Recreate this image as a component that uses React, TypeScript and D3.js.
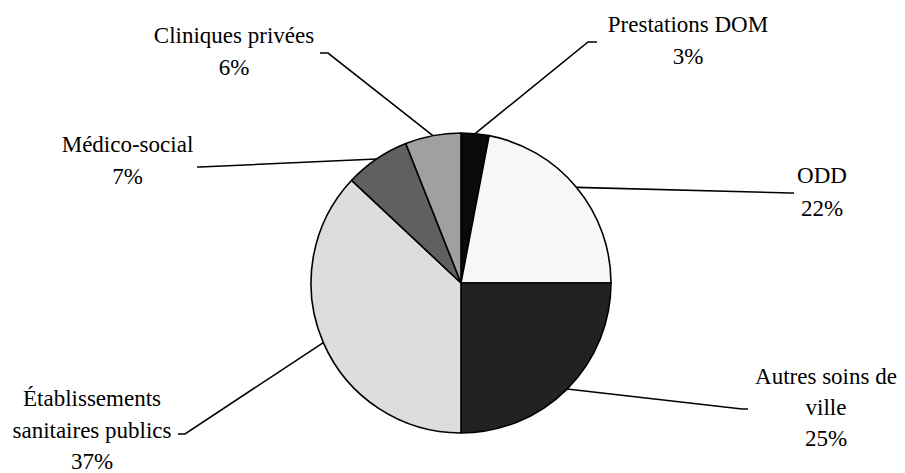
import React from 'react';
import * as d3 from 'd3';

const categories = [
  'Prestations DOM',
  'ODD',
  'Autres soins de ville',
  'Établissements sanitaires publics',
  'Médico-social',
  'Cliniques privées',
];
const shares = [3, 22, 25, 37, 7, 6];
const labelLines = [
  ['Prestations DOM', '3%'],
  ['ODD', '22%'],
  ['Autres soins de', 'ville', '25%'],
  ['Établissements', 'sanitaires publics', '37%'],
  ['Médico-social', '7%'],
  ['Cliniques privées', '6%'],
];
const fills = ['#0a0a0a', '#f7f7f7', '#222222', '#dddddd', '#606060', '#a0a0a0'];

// label placement (layout only)
const labelPos = [
  { x: 688, y: 31.5, gap: 32, bend: [588, 42], end: [597, 42] },
  { x: 822, y: 183, gap: 33, bend: [790, 193], end: [794, 193] },
  { x: 826, y: 384, gap: 31, bend: [742, 409], end: [748, 409] },
  { x: 92, y: 406, gap: 31.5, bend: [185, 434], end: [178, 434] },
  { x: 127.5, y: 151.5, gap: 32.5, bend: [200, 167], end: [197, 167] },
  { x: 234, y: 43, gap: 32, bend: [328, 53], end: [320, 53] },
];

type Datum = { name: string; value: number; i: number };

const width = 905;
const height = 473;
const cx = 461;
const cy = 283;
const r = 150;
const labelFont = '"Times New Roman", "Liberation Serif", Tinos, serif';

const App: React.FC = () => {
  const data: Datum[] = categories.map((c, i) => ({ name: c, value: shares[i], i }));
  const arcs = d3
    .pie<Datum>()
    .sort(null)
    .value((d) => d.value)(data);
  const arc = d3.arc<d3.PieArcDatum<Datum>>().innerRadius(0).outerRadius(r);

  return (
    <svg
      width={width}
      height={height}
      style={{ position: 'absolute', left: 0, top: 0, background: '#fff' }}
    >
      <g transform={`translate(${cx},${cy})`}>
        {arcs.map((a) => (
          <path
            key={a.data.name}
            d={arc(a) || ''}
            fill={fills[a.data.i]}
            stroke="#000"
            strokeWidth={1.6}
            strokeLinejoin="round"
          />
        ))}
      </g>
      {arcs.map((a) => {
        // leader line from the slice edge at its mid angle
        const mid = (a.startAngle + a.endAngle) / 2;
        const px = cx + Math.sin(mid) * r;
        const py = cy - Math.cos(mid) * r;
        const lp = labelPos[a.data.i];
        return (
          <polyline
            key={'l' + a.data.name}
            points={`${px},${py} ${lp.bend[0]},${lp.bend[1]} ${lp.end[0]},${lp.end[1]}`}
            fill="none"
            stroke="#000"
            strokeWidth={1.6}
          />
        );
      })}
      {labelLines.map((lines, i) => {
        const lp = labelPos[i];
        return lines.map((ln, k) => (
          <text
            key={'t' + i + '-' + k}
            x={lp.x}
            y={lp.y + k * lp.gap}
            textAnchor="middle"
            fill="#000"
            fontFamily={labelFont}
            fontSize={23}
            style={{ fontFamily: labelFont, fontSize: '23px' }}
          >
            {ln}
          </text>
        ));
      })}
    </svg>
  );
};

export default App;
